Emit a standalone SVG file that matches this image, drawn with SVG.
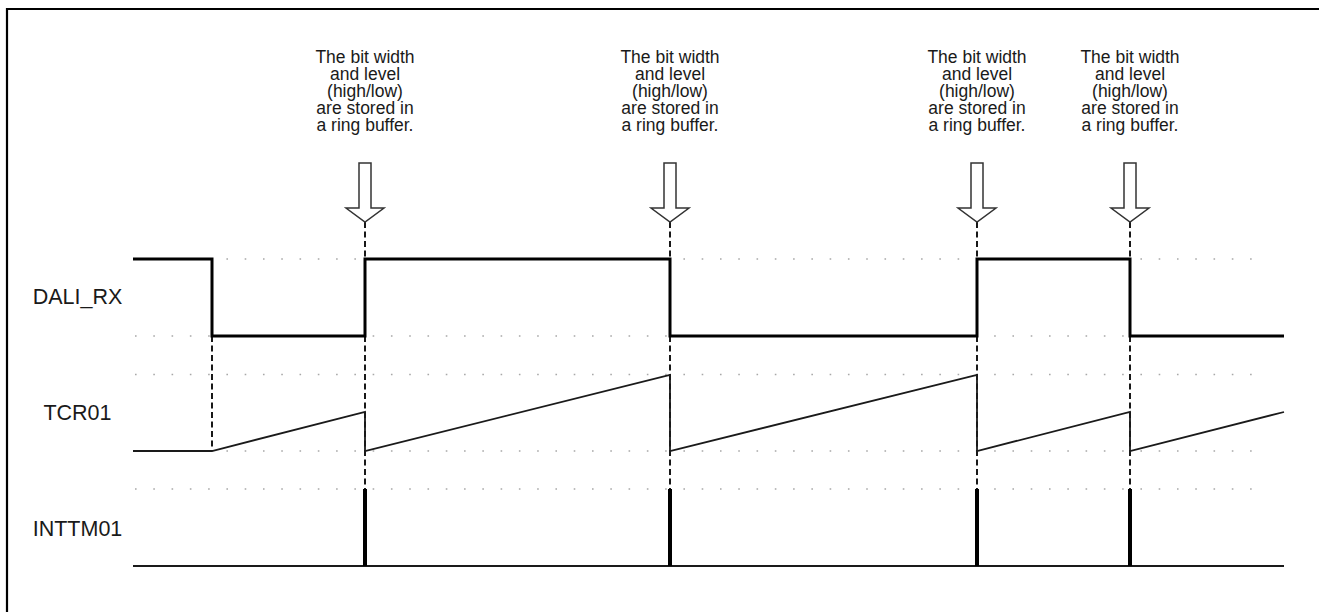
<svg xmlns="http://www.w3.org/2000/svg" width="1319" height="612" viewBox="0 0 1319 612">
<style>
.bg{fill:#fff}
.border{fill:none;stroke:#000;stroke-width:2.2}
.grid{fill:none;stroke:#a8a8a8;stroke-width:1.6;stroke-dasharray:1.6 16.68}
.sig{fill:none;stroke:#000;stroke-width:3;stroke-linejoin:miter}
.ramp{fill:none;stroke:#1a1a1a;stroke-width:1.8}
.base{fill:none;stroke:#1a1a1a;stroke-width:2}
.pulse{stroke:#000;stroke-width:4}
.dash{fill:none;stroke:#000;stroke-width:1.8;stroke-dasharray:6 3.5}
.arrow{fill:#fff;stroke:#333;stroke-width:1.5;stroke-linejoin:miter}
.note{font-family:"Liberation Sans",Arial,sans-serif;font-size:17.5px;fill:#1a1a1a;text-anchor:middle}
.label{font-family:"Liberation Sans",Arial,sans-serif;font-size:21.5px;fill:#1a1a1a;text-anchor:middle}
</style>
<defs>
<g id="noteArrow">
<polygon class="arrow" points="-6,163 6,163 6,208 19,208 0,222 -19,208 -6,208"/>
<text class="note" x="0" y="63">The bit width</text>
<text class="note" x="0" y="80">and level</text>
<text class="note" x="0" y="97">(high/low)</text>
<text class="note" x="0" y="114">are stored in</text>
<text class="note" x="0" y="131">a ring buffer.</text>
</g>
</defs>
<rect class="bg" x="0" y="0" width="1319" height="612"/>
<path class="border" d="M7,612 V9 H1319"/>
<g id="grid">
<path class="grid" d="M135,259 H1268 M135,336 H1268 M135,374.5 H1268 M135,451 H1268 M135,489 H1268"/>
</g>
<g id="connectors">
<path class="dash" d="M212,336 V451"/>
<path class="dash" d="M365,222 V489"/>
<path class="dash" d="M670,222 V489"/>
<path class="dash" d="M977,222 V489"/>
<path class="dash" d="M1130,222 V489"/>
</g>
<g id="labels">
<text class="label" x="77.5" y="304">DALI_RX</text>
<text class="label" x="77.5" y="420">TCR01</text>
<text class="label" x="77.5" y="536">INTTM01</text>
</g>
<g id="DALI_RX">
<path class="sig" d="M133,259 H212 V336 H365 V259 H670 V336 H977 V259 H1130 V336 H1284"/>
</g>
<g id="TCR01">
<path class="ramp" d="M133,451 H212 L365,412 V451 L670,375 V451 L977,375 V451 L1130,412 V451 L1284,412"/>
</g>
<g id="INTTM01">
<path class="base" d="M133,566 H1284"/>
<path class="pulse" d="M365,489 V566 M670,489 V566 M977,489 V566 M1130,489 V566"/>
</g>
<g id="note1"><use href="#noteArrow" x="365" y="0"/></g>
<g id="note2"><use href="#noteArrow" x="670" y="0"/></g>
<g id="note3"><use href="#noteArrow" x="977" y="0"/></g>
<g id="note4"><use href="#noteArrow" x="1130" y="0"/></g>
</svg>
